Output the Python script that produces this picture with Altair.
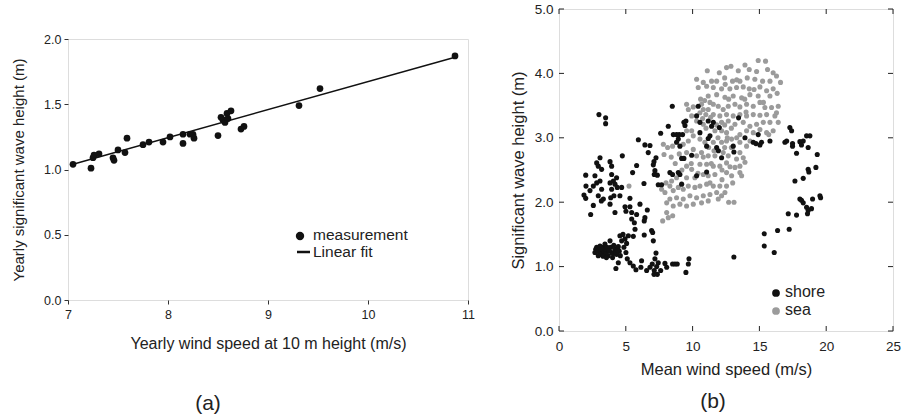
import altair as alt
import pandas as pd

FONT = "Liberation Sans"

# ---------------- Panel (a) data ----------------
a_wind = [7.05, 7.23, 7.25, 7.26, 7.31, 7.45, 7.46, 7.50, 7.57, 7.59, 7.75, 7.81,
          7.95, 8.02, 8.15, 8.15, 8.22, 8.25, 8.26, 8.50, 8.53, 8.55, 8.57, 8.59,
          8.60, 8.63, 8.73, 8.76, 9.31, 9.52, 10.87]
a_wave = [1.04, 1.01, 1.09, 1.11, 1.12, 1.09, 1.07, 1.15, 1.13, 1.24, 1.19, 1.21,
          1.21, 1.25, 1.27, 1.20, 1.27, 1.27, 1.24, 1.26, 1.40, 1.38, 1.36, 1.43,
          1.39, 1.45, 1.31, 1.33, 1.49, 1.62, 1.87]
fit_wind = [7.05, 10.87]
fit_wave = [1.04, 1.86]
a_xticks = [7, 8, 9, 10, 11]
a_yticks = [0.0, 0.5, 1.0, 1.5, 2.0]
a_legend = ["measurement", "Linear fit"]

# ---------------- Panel (b) data ----------------
shore_wind = [2.99, 3.49, 3.49, 2.0, 2.02, 1.87, 2.0, 2.32, 2.57, 2.82, 2.69, 2.82, 3.07, 2.94, 3.19,
              3.07, 3.19, 2.94, 2.57, 2.37, 3.32, 3.17, 3.82, 3.94, 3.94, 3.82, 4.07, 4.19, 4.31, 4.36,
              3.94, 3.87, 4.11, 3.82, 4.19, 4.74, 4.56, 4.69, 5.51, 5.31, 5.94, 5.81, 4.94, 5.31, 5.01,
              5.44, 5.44, 5.64, 5.81, 6.06, 6.61, 6.43, 6.38, 5.69, 5.56, 6.36, 6.68, 6.43, 6.81, 7.11,
              7.26, 7.06, 7.18, 7.13, 7.36, 7.43, 7.68, 7.61, 6.93, 7.06, 7.01, 6.38,
              2.82, 3.02, 3.19, 3.32, 3.44, 3.57, 3.69, 3.82, 3.87, 3.94, 4.01, 4.19, 4.31, 4.44, 4.51,
              4.59, 4.69, 4.56, 4.79, 4.94, 5.06, 5.19, 4.86, 5.01, 5.11, 5.31, 5.56, 5.76, 4.26, 4.44,
              2.94, 3.07, 2.69, 3.44,
              2.75, 2.9, 3.1, 3.25, 3.38, 3.5, 3.6, 3.75, 3.3, 3.15, 4.05, 4.25, 4.38, 3.55, 4.1,
              6.18, 6.13, 6.56, 6.81, 6.98, 7.13, 7.31, 7.26, 7.18, 7.43, 7.11, 7.36, 7.61, 8.06, 7.93,
              8.50, 8.68, 8.85, 9.50, 9.68, 9.73,
              8.48, 10.42, 10.30, 9.43, 9.35, 9.50, 8.18, 8.56, 8.80, 9.0, 9.25, 8.93, 8.80, 9.05, 9.18,
              9.35, 8.93, 9.05, 8.30, 8.50, 9.18, 9.93, 10.30, 10.55, 10.55, 11.17, 11.42, 11.55, 11.30,
              11.17, 11.05, 11.80, 11.93, 12.0, 12.17, 11.05, 13.04, 13.09, 13.44, 13.92, 14.54, 14.74,
              14.91, 15.04, 15.16, 15.79, 13.09,
              16.91, 17.04, 17.28, 17.41, 17.48, 17.48, 18.03, 18.28, 17.78, 18.15, 18.53, 18.78, 18.65,
              19.33, 17.66, 18.28, 18.65, 18.70, 19.23, 18.03, 18.15, 18.28, 18.53, 18.65, 18.9, 18.98,
              19.53, 19.58, 18.60, 17.16, 17.78, 17.23, 16.36, 15.36, 15.36, 16.11]
shore_wave = [3.36, 3.31, 3.22, 2.42, 2.25, 2.11, 2.06, 2.18, 2.25, 2.30, 2.41, 2.61, 2.69, 2.56, 2.51,
              2.33, 2.20, 2.10, 1.95, 1.81, 2.05, 2.02, 2.63, 2.56, 2.43, 2.30, 2.33, 2.28, 2.38, 2.23,
              2.20, 2.07, 2.10, 1.97, 1.84, 2.72, 2.10, 2.23, 2.46, 2.06, 2.97, 2.57, 1.93, 1.93, 1.86,
              1.84, 1.74, 1.68, 1.81, 1.97, 1.88, 1.76, 1.71, 1.58, 1.47, 2.29, 2.77, 2.89, 2.88, 2.63,
              2.69, 2.58, 2.49, 2.43, 2.42, 2.27, 2.27, 3.07, 1.56, 1.40, 1.53, 1.49,
              1.30, 1.25, 1.22, 1.30, 1.19, 1.25, 1.17, 1.40, 1.30, 1.22, 1.14, 1.27, 1.19, 1.31, 1.24,
              1.17, 1.40, 1.48, 1.50, 1.43, 1.36, 1.48, 1.30, 1.22, 1.12, 1.06, 1.01, 0.95, 0.97, 1.06,
              1.17, 1.32, 1.22, 1.35,
              1.27, 1.24, 1.19, 1.27, 1.23, 1.20, 1.30, 1.25, 1.16, 1.28, 1.20, 1.22, 1.25, 1.14, 1.33,
              1.09, 0.99, 0.94, 0.99, 1.04, 0.94, 1.00, 1.21, 1.12, 1.06, 0.88, 0.88, 0.94, 0.99, 1.05,
              1.04, 1.04, 1.04, 0.91, 1.04, 1.12,
              3.49, 3.49, 3.34, 3.19, 3.24, 3.26, 3.18, 3.05, 3.05, 3.05, 3.05, 2.98, 2.93, 2.87, 2.68,
              2.68, 2.46, 2.43, 2.46, 2.43, 2.28, 2.73, 2.41, 3.24, 3.08, 3.26, 3.18, 3.24, 3.03,
              2.99, 2.87, 2.85, 2.80, 3.16, 2.69, 2.47, 2.87, 2.78, 3.31, 3.00, 2.93, 2.91,
              3.05, 2.89, 2.93, 2.95, 1.15,
              2.93, 2.95, 3.16, 3.11, 2.91, 2.87, 2.94, 2.95, 2.76, 2.89, 3.03, 3.03, 2.85,
              2.74, 2.33, 2.37, 2.51, 2.47, 2.54, 2.05, 2.03, 1.99, 1.92, 1.87, 1.90, 2.05,
              2.10, 2.07, 1.82, 1.82, 1.80, 1.58, 1.56, 1.51, 1.32, 1.22]

sea_wind = [14.91, 15.46, 13.92, 12.87, 12.0, 11.10, 12.54, 13.42, 14.24, 14.79, 15.61, 16.03, 16.28,
            16.58, 15.79, 15.24, 14.66, 14.09, 13.54, 12.99, 12.44, 11.80, 11.42, 10.30, 10.80, 10.42,
            11.05, 11.55, 12.17, 12.79, 13.29, 13.79, 14.24, 15.04, 15.54, 16.03, 16.33, 15.79, 14.91,
            14.29, 13.67, 13.04, 12.42, 11.80, 11.17, 9.55, 9.68, 10.05, 10.67, 10.80, 10.99, 10.55,
            11.17, 11.55, 11.92, 12.29, 12.67, 13.17, 13.54, 14.04, 14.54, 15.04, 15.41, 15.91, 16.41,
            16.28, 16.16, 15.54, 15.04, 14.54, 14.04, 13.54, 13.04, 12.54, 12.04, 11.55, 9.93, 10.30,
            10.80, 12.17, 12.67, 13.17, 13.79, 14.29, 14.79, 15.29, 15.79, 16.41, 16.03, 15.54, 15.04,
            14.54, 14.04, 13.54, 12.54, 12.17, 11.67, 9.93, 9.55, 10.05, 9.68, 8.5, 7.81, 8.13, 10.55,
            10.92, 11.55, 12.17, 12.54, 12.92, 13.54, 14.04, 13.54, 13.79, 13.92, 13.29, 13.54, 13.17,
            13.54, 13.67, 12.92, 12.54, 12.54, 12.67, 12.29, 11.67, 11.17, 10.67, 10.30, 10.05, 9.55,
            9.55, 9.93, 10.55, 11.05, 11.55, 12.04, 11.67, 11.17, 10.80, 10.17, 9.55, 8.80, 8.43, 8.01,
            7.68, 7.93, 8.30, 8.55, 8.93, 9.30, 9.68, 10.17, 10.55, 11.05, 11.55, 12.04, 12.54, 12.42,
            11.80, 11.30, 10.80, 10.30, 9.80, 9.30, 8.80, 8.30, 8.06, 8.55, 9.05, 9.55, 10.05, 10.67,
            11.17, 11.92, 12.17, 8.06, 8.51, 8.18, 7.76, 5.24, 7.86,
            10.6, 10.9, 11.3, 10.75, 11.0, 11.35, 11.8, 12.4, 11.9, 12.6, 12.9, 11.2, 11.6, 12.4, 12.9,
            10.8, 11.4, 12.2, 12.8, 13.0, 12.2, 11.3, 10.4, 9.9, 9.2, 8.7, 9.0, 9.3, 8.4, 12.4, 12.7,
            13.3, 13.9, 14.6, 15.3, 14.0, 15.7, 13.3, 14.3, 13.1, 12.7]
sea_wave = [4.20, 4.19, 4.13, 4.11, 4.01, 4.04, 4.09, 4.04, 4.06, 4.03, 4.06, 4.01, 3.96,
            3.86, 3.88, 3.88, 3.91, 3.93, 3.88, 3.88, 3.83, 3.88, 3.88, 3.91, 3.86, 3.78,
            3.80, 3.78, 3.76, 3.76, 3.78, 3.79, 3.76, 3.79, 3.73, 3.76, 3.69, 3.65, 3.65,
            3.67, 3.62, 3.65, 3.63, 3.67, 3.65, 3.52, 3.44, 3.48, 3.52, 3.44, 3.36, 3.39,
            3.44, 3.52, 3.49, 3.44, 3.49, 3.52, 3.48, 3.52, 3.49, 3.55, 3.47, 3.47, 3.49,
            3.39, 3.34, 3.36, 3.35, 3.36, 3.34, 3.36, 3.34, 3.36, 3.34, 3.36, 3.34, 3.26,
            3.21, 3.24, 3.26, 3.21, 3.24, 3.18, 3.21, 3.24, 3.24, 3.24, 3.11, 3.08, 3.13,
            3.08, 3.11, 3.05, 3.08, 3.11, 3.11, 3.11, 3.11, 3.03, 2.95, 2.87, 2.90, 2.85, 2.98,
            2.93, 2.93, 2.93, 2.95, 2.98, 2.93, 2.87, 2.77, 2.69, 2.62, 2.67, 2.56, 2.54,
            2.46, 2.41, 2.41, 2.46, 2.61, 2.72, 2.77, 2.72, 2.72, 2.77, 2.72, 2.82, 2.77,
            2.56, 2.51, 2.59, 2.59, 2.56, 2.56, 2.43, 2.41, 2.43, 2.38, 2.38, 2.38, 2.33, 2.30,
            2.20, 2.15, 2.25, 2.18, 2.23, 2.20, 2.25, 2.23, 2.25, 2.28, 2.25, 2.25, 2.25, 2.15,
            2.15, 2.12, 2.10, 2.07, 2.10, 2.05, 2.07, 2.05, 1.99, 1.94, 1.97, 1.94, 1.97, 1.99,
            2.02, 2.05, 2.10, 1.84, 1.79, 1.76, 1.71, 2.25, 2.74,
            3.60, 3.58, 3.55, 3.30, 3.15, 3.32, 3.20, 3.20, 3.00, 3.00, 3.15, 2.85, 2.80, 2.85, 2.85,
            2.70, 2.60, 2.50, 2.55, 2.30, 2.35, 2.30, 2.45, 2.60, 2.50, 2.60, 2.75, 2.90, 2.70, 3.93, 3.60,
            3.90, 3.60, 3.75, 3.55, 3.40, 3.05, 3.00, 2.95, 2.00, 2.00]
b_xticks = [0, 5, 10, 15, 20, 25]
b_yticks = [0.0, 1.0, 2.0, 3.0, 4.0, 5.0]
b_legend = ["shore", "sea"]

BLACK = "#111111"
GRAY = "#9b9b9b"
TXT = "#222222"

# ---------------- Panel (a) ----------------
WA, HA = 400, 261
xs_a = alt.Scale(domain=[7, 11], nice=False, zero=False)
ys_a = alt.Scale(domain=[0, 2], nice=False, zero=False)
ax_a_x = alt.Axis(values=a_xticks, format="d", title="Yearly wind speed at 10 m height (m/s)",
                  domain=False, grid=False, tickSize=4, tickColor="#333", labelPadding=4,
                  labelFlush=False, titlePadding=15, labelFontSize=12.5, titleFontSize=16,
                  labelColor=TXT, titleColor=TXT, titleFontWeight="normal",
                  labelFont=FONT, titleFont=FONT)
ax_a_y = alt.Axis(values=a_yticks, format=".1f", title="Yearly significant wave height (m)",
                  domain=False, grid=False, tickSize=4, tickColor="#333", labelPadding=3,
                  titlePadding=17, labelFontSize=12.5, titleFontSize=15, labelColor=TXT,
                  titleColor=TXT, titleFontWeight="normal", labelFont=FONT, titleFont=FONT)

df_a = pd.DataFrame({"wind": a_wind, "wave": a_wave})
df_fit = pd.DataFrame({"wind": fit_wind, "wave": fit_wave})

pts_a = alt.Chart(df_a).mark_circle(size=45, color=BLACK, opacity=1).encode(
    x=alt.X("wind:Q", scale=xs_a, axis=ax_a_x),
    y=alt.Y("wave:Q", scale=ys_a, axis=ax_a_y),
)
fit_a = alt.Chart(df_fit).mark_line(color=BLACK, strokeWidth=1.5).encode(
    x=alt.X("wind:Q", scale=xs_a, axis=ax_a_x),
    y=alt.Y("wave:Q", scale=ys_a, axis=ax_a_y),
)
leg_a_df = pd.DataFrame({"label": a_legend})
leg_a_dot = alt.Chart(leg_a_df).transform_filter(alt.datum.label == a_legend[0]).mark_circle(
    size=70, color=BLACK, opacity=1).encode(x=alt.value(232), y=alt.value(197))
leg_a_line = alt.Chart(leg_a_df).transform_filter(alt.datum.label == a_legend[1]).mark_rule(
    color=BLACK, strokeWidth=2.5).encode(x=alt.value(229), x2=alt.value(242), y=alt.value(213))
leg_a_txt1 = alt.Chart(leg_a_df).transform_filter(alt.datum.label == a_legend[0]).mark_text(
    align="left", baseline="middle", fontSize=15.5, font=FONT, color=TXT).encode(
    x=alt.value(245), y=alt.value(196), text="label:N")
leg_a_txt2 = alt.Chart(leg_a_df).transform_filter(alt.datum.label == a_legend[1]).mark_text(
    align="left", baseline="middle", fontSize=15.5, font=FONT, color=TXT).encode(
    x=alt.value(245), y=alt.value(213), text="label:N")
cap_a = alt.Chart(pd.DataFrame({"c": ["(a)"]})).mark_text(
    align="center", baseline="middle", fontSize=21, font=FONT, color=TXT).encode(
    x=alt.value(140), y=alt.value(HA + 104), text="c:N")

panel_a = alt.layer(pts_a, fit_a, leg_a_dot, leg_a_line, leg_a_txt1, leg_a_txt2, cap_a).properties(
    width=WA, height=HA,
)

spacer = alt.Chart(pd.DataFrame({"s": [0]})).mark_point(opacity=0).encode(
    x=alt.value(0), y=alt.value(0)
).properties(width=WA, height=22, view=alt.ViewBackground(stroke="transparent"))

col_a = alt.vconcat(spacer, panel_a, spacing=0)

# ---------------- Panel (b) ----------------
WB, HB = 334, 322
xs_b = alt.Scale(domain=[0, 25], nice=False, zero=False)
ys_b = alt.Scale(domain=[0, 5], nice=False, zero=False)
ax_b_x = alt.Axis(values=b_xticks, format="d", title="Mean wind speed (m/s)",
                  domain=False, grid=False, ticks=False, labelPadding=8, labelFlush=False,
                  titlePadding=9, labelFontSize=13.5, titleFontSize=16.5, labelColor=TXT,
                  titleColor=TXT, titleFontWeight="normal", labelFont=FONT, titleFont=FONT)
ax_b_y = alt.Axis(values=b_yticks, format=".1f", title="Significant wave height (m)",
                  domain=False, grid=False, ticks=False, labelPadding=6,
                  titlePadding=8, labelFontSize=13.5, titleFontSize=16.5, labelColor=TXT,
                  titleColor=TXT, titleFontWeight="normal", labelFont=FONT, titleFont=FONT)

df_sea = pd.DataFrame({"wind": sea_wind, "wave": sea_wave})
df_shore = pd.DataFrame({"wind": shore_wind, "wave": shore_wave})

sea_pts = alt.Chart(df_sea).mark_circle(size=26, color=GRAY, opacity=1).encode(
    x=alt.X("wind:Q", scale=xs_b, axis=ax_b_x),
    y=alt.Y("wave:Q", scale=ys_b, axis=ax_b_y),
)
shore_pts = alt.Chart(df_shore).mark_circle(size=26, color=BLACK, opacity=1).encode(
    x=alt.X("wind:Q", scale=xs_b, axis=ax_b_x),
    y=alt.Y("wave:Q", scale=ys_b, axis=ax_b_y),
)
bx_df = pd.DataFrame({"wind": b_xticks})
by_df = pd.DataFrame({"wave": b_yticks})
tick_bottom = alt.Chart(bx_df).mark_rule(color="#222", strokeWidth=1).encode(
    x=alt.X("wind:Q", scale=xs_b, axis=ax_b_x), y=alt.value(HB), y2=alt.value(HB - 5))
tick_top = alt.Chart(bx_df).mark_rule(color="#222", strokeWidth=1).encode(
    x=alt.X("wind:Q", scale=xs_b, axis=ax_b_x), y=alt.value(0), y2=alt.value(5))
tick_left = alt.Chart(by_df).mark_rule(color="#222", strokeWidth=1).encode(
    y=alt.Y("wave:Q", scale=ys_b, axis=ax_b_y), x=alt.value(0), x2=alt.value(5))
tick_right = alt.Chart(by_df).mark_rule(color="#222", strokeWidth=1).encode(
    y=alt.Y("wave:Q", scale=ys_b, axis=ax_b_y), x=alt.value(WB), x2=alt.value(WB - 5))

leg_b_df = pd.DataFrame({"label": b_legend})
leg_b_dot1 = alt.Chart(leg_b_df).transform_filter(alt.datum.label == b_legend[0]).mark_circle(
    size=60, color=BLACK, opacity=1).encode(x=alt.value(217), y=alt.value(284))
leg_b_dot2 = alt.Chart(leg_b_df).transform_filter(alt.datum.label == b_legend[1]).mark_circle(
    size=60, color=GRAY, opacity=1).encode(x=alt.value(217), y=alt.value(302))
leg_b_txt1 = alt.Chart(leg_b_df).transform_filter(alt.datum.label == b_legend[0]).mark_text(
    align="left", baseline="middle", fontSize=16, font=FONT, color=TXT).encode(
    x=alt.value(226), y=alt.value(283), text="label:N")
leg_b_txt2 = alt.Chart(leg_b_df).transform_filter(alt.datum.label == b_legend[1]).mark_text(
    align="left", baseline="middle", fontSize=16, font=FONT, color=TXT).encode(
    x=alt.value(226), y=alt.value(301), text="label:N")
cap_b = alt.Chart(pd.DataFrame({"c": ["(b)"]})).mark_text(
    align="center", baseline="middle", fontSize=21, font=FONT, color=TXT).encode(
    x=alt.value(154), y=alt.value(HB + 71), text="c:N")

panel_b = alt.layer(sea_pts, shore_pts, tick_bottom, tick_top, tick_left, tick_right,
                    leg_b_dot1, leg_b_dot2, leg_b_txt1, leg_b_txt2, cap_b).properties(
    width=WB, height=HB,
)

chart = alt.hconcat(col_a, panel_b, spacing=34).properties(
    padding={"left": 11, "top": 1, "right": 0, "bottom": 0},
    background="white",
).configure_view(
    stroke="#333333", strokeWidth=1.5,
).configure(font=FONT)

chart.save("out.html", embed_options={"renderer": "svg", "actions": False})
